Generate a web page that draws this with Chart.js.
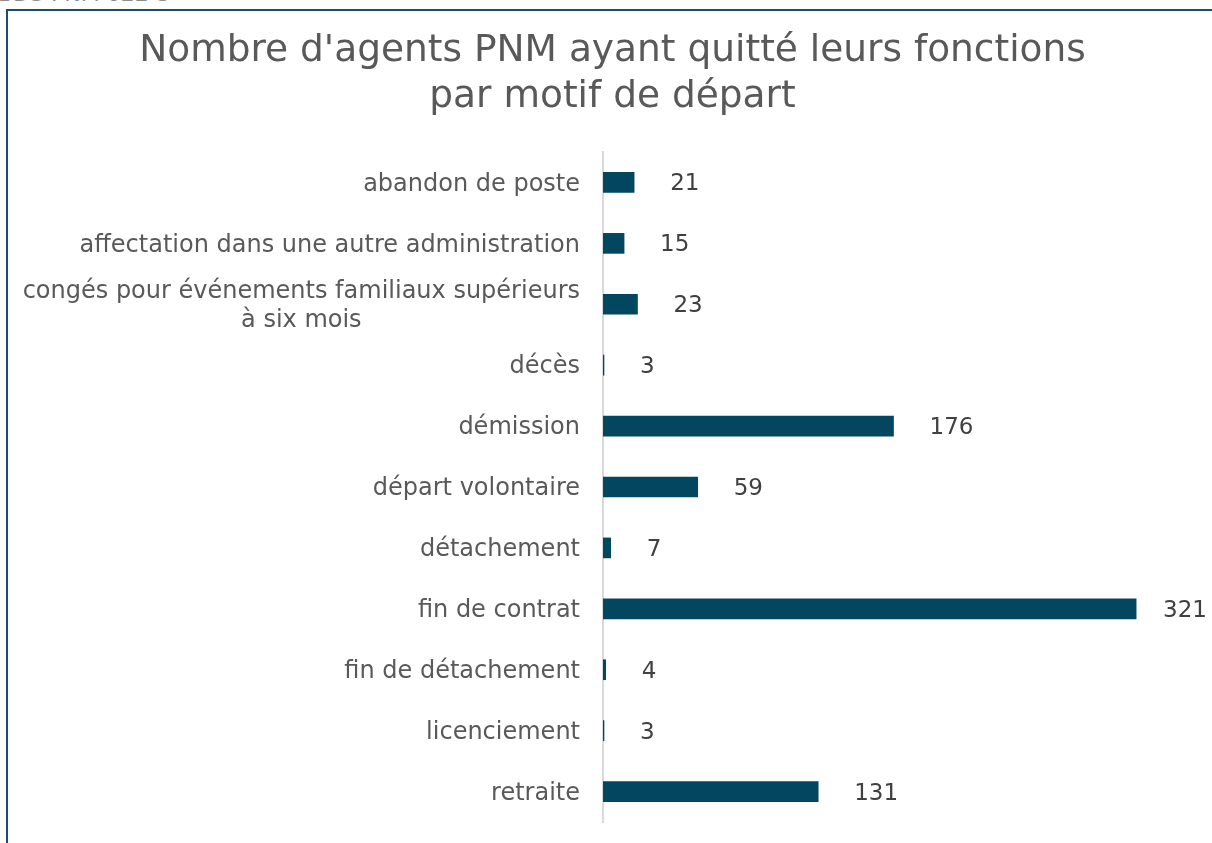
<!DOCTYPE html>
<html>
<head>
<meta charset="utf-8">
<script src="https://cdn.jsdelivr.net/npm/chart.js@4"></script>
<style>
    html, body { margin: 0; padding: 0; background: #fff; overflow: hidden; }
    #wrap { position: relative; width: 1212px; height: 843px; }
    #frame { position: absolute; left: 6px; top: 9px; width: 1300px; height: 900px; border: 2px solid #1b4f66; box-sizing: border-box; }
    #ref { position: absolute; left: -2px; top: -19px; font: 22px "DejaVu Sans", sans-serif; color: #8c8c8c; }
    canvas { position: absolute; left: 0; top: 0; }
</style>
</head>
<body>
<div id="wrap">
    <div id="ref">BDS PNM 022-3</div>
    <div id="frame"></div>
    <canvas id="chart" width="1212" height="843"></canvas>
</div>
<script>
const titleLines = ["Nombre d'agents PNM ayant quitté leurs fonctions", 'par motif de départ'];
const categories = [
    'abandon de poste',
    'affectation dans une autre administration',
    ['congés pour événements familiaux supérieurs', 'à six mois'],
    'décès',
    'démission',
    'départ volontaire',
    'détachement',
    'fin de contrat',
    'fin de détachement',
    'licenciement',
    'retraite'
];
const departures = [21, 15, 23, 3, 176, 59, 7, 321, 4, 3, 131];

const FONT = '"DejaVu Sans", Verdana, sans-serif';

// draws category names (multi-line ones centred like the original) and value labels
const labelPlugin = {
    id: 'labels',
    afterDraw(chart) {
        const ctx = chart.ctx;
        const y = chart.scales.y;
        ctx.save();
        ctx.font = '24px ' + FONT;
        ctx.textBaseline = 'middle';
        ctx.fillStyle = '#595959';
        const right = 580;
        categories.forEach((c, i) => {
            const cy = y.getPixelForValue(i) + 2;
            if (Array.isArray(c)) {
                const w = Math.max(...c.map(t => ctx.measureText(t).width));
                const cx = right - w / 2;
                ctx.textAlign = 'center';
                c.forEach((t, k) => ctx.fillText(t, cx, cy + (k - (c.length - 1) / 2) * 29));
            } else {
                ctx.textAlign = 'right';
                ctx.fillText(c, right, cy);
            }
        });
        ctx.font = '23px ' + FONT;
        ctx.fillStyle = '#404040';
        ctx.textAlign = 'left';
        chart.getDatasetMeta(0).data.forEach((bar, i) => {
            const txt = String(departures[i]);
            const w = ctx.measureText(txt).width;
            const x = Math.min(bar.x + 36, chart.width - 5 - w);
            ctx.fillText(txt, x, bar.y + 2);
        });
        ctx.restore();
    }
};

new Chart(document.getElementById('chart'), {
    type: 'bar',
    data: {
        labels: categories,
        datasets: [{
            data: departures,
            backgroundColor: '#02465f',
            barThickness: 20
        }]
    },
    options: {
        indexAxis: 'y',
        responsive: false,
        animation: false,
        layout: { padding: { left: 42, right: 29, bottom: 21, top: 0 } },
        plugins: {
            legend: { display: false },
            tooltip: { enabled: false },
            title: {
                display: true,
                text: titleLines,
                color: '#595959',
                font: { family: FONT, size: 37.5, weight: 'normal', lineHeight: 1.24 },
                padding: { top: 28, bottom: 31 }
            }
        },
        scales: {
            x: { display: false, min: 2.4, max: 349 },
            y: {
                afterFit(scale) { scale.width = 561; },
                ticks: { display: false },
                grid: { display: false },
                border: { display: true, color: '#d9d9d9', width: 2 }
            }
        }
    },
    plugins: [labelPlugin]
});
</script>
</body>
</html>
